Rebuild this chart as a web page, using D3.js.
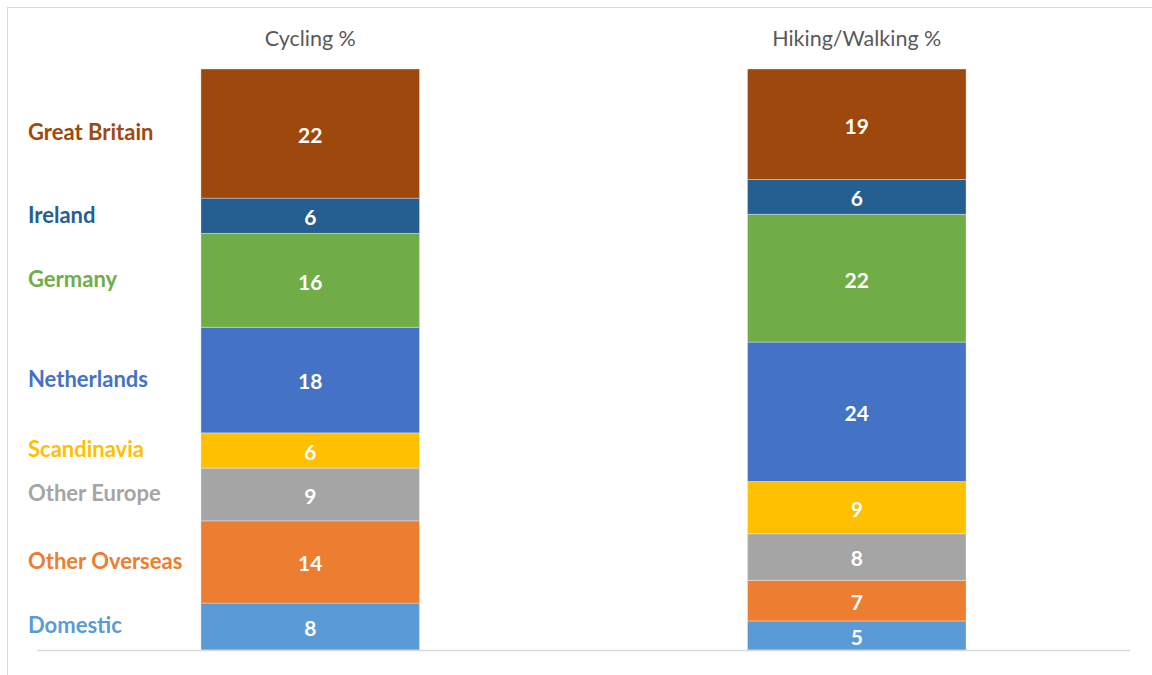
<!DOCTYPE html>
<html>
<head>
<meta charset="utf-8">
<script src="https://cdn.jsdelivr.net/npm/d3@7"></script>
<style>
	body { margin: 0; background: #fff; }
	text { font-family: Lato, 'Open Sans', sans-serif; }
	.title { fill: #595959; font-size: 21.5px; }
	.value { fill: #fff; font-size: 21px; font-weight: bold; }
	.cat-label { font-size: 22px; font-weight: bold; }
</style>
</head>
<body>
<div id="chart"></div>
<script>
// activities (one stacked bar each), bottom-to-top series order
let activities = ['Cycling %', 'Hiking/Walking %']
let origins = ['Domestic', 'Other Overseas', 'Other Europe', 'Scandinavia', 'Netherlands', 'Germany', 'Ireland', 'Great Britain']
let cycling = [8, 14, 9, 6, 18, 16, 6, 22]
let hiking = [5, 7, 8, 9, 24, 22, 6, 19]
let colors = ['#5B9BD5', '#ED7D31', '#A5A5A5', '#FFC000', '#4472C4', '#70AD47', '#255E91', '#9E480E']

let width = 1152, height = 675
let margin = { left: 37, right: 22, top: 69, bottom: 25 }

let svg = d3.select('#chart')
.append('svg')
.attr('width', width)
.attr('height', height)

// chart frame (runs off the right and bottom edges)
svg.append('rect')
.attr('x', 7.5)
.attr('y', 7.5)
.attr('width', width)
.attr('height', height)
.attr('fill', 'none')
.attr('stroke', '#d9d9d9')

let x = d3.scaleBand()
.domain(activities)
.range([margin.left, width - margin.right])
.paddingInner(0.6)
.paddingOuter(0.3)

// 100% stacked
let y = d3.scaleLinear()
.domain([0, 1])
.range([height - margin.bottom, margin.top])

let rows = activities.map((a, i) => {
	let vals = i == 0 ? cycling : hiking
	let total = d3.sum(vals)
	let row = { activity: a }
	origins.forEach((o, j) => row[o] = vals[j] / total)
	row.raw = vals
	return row
})

let series = d3.stack().keys(origins)(rows)

let groups = svg.selectAll('.series')
.data(series)
.join('g')
.attr('class', 'series')
.attr('fill', (d, i) => colors[i])

groups.selectAll('rect')
.data(d => d)
.join('rect')
.attr('x', d => x(d.data.activity))
.attr('width', x.bandwidth())
.attr('y', d => y(d[1]))
.attr('height', d => y(d[0]) - y(d[1]))
.attr('stroke', 'rgba(255,255,255,0.45)')
.attr('stroke-width', 0.75)

groups.selectAll('.value')
.data((d, i) => d.map(s => ({ s, i })))
.join('text')
.attr('class', 'value')
.attr('x', d => x(d.s.data.activity) + x.bandwidth() / 2)
.attr('y', d => (y(d.s[0]) + y(d.s[1])) / 2)
.attr('dy', '0.45em')
.attr('text-anchor', 'middle')
.text(d => d.s.data.raw[d.i])

// baseline
svg.append('line')
.attr('x1', margin.left)
.attr('x2', width - margin.right)
.attr('y1', y(0) + 0.5)
.attr('y2', y(0) + 0.5)
.attr('stroke', '#d9d9d9')
.attr('stroke-width', 1.5)

// bar titles
svg.selectAll('.title')
.data(activities)
.join('text')
.attr('class', 'title')
.attr('x', d => x(d) + x.bandwidth() / 2)
.attr('y', 38)
.attr('dy', '0.36em')
.attr('text-anchor', 'middle')
.text(d => d)

// category labels next to the cycling bar
svg.selectAll('.cat-label')
.data(series)
.join('text')
.attr('class', 'cat-label')
.attr('x', 28)
.attr('y', d => (y(d[0][0]) + y(d[0][1])) / 2 - 1)
.attr('dy', '0.36em')
.attr('fill', (d, i) => colors[i])
.text(d => d.key)
</script>
</body>
</html>
